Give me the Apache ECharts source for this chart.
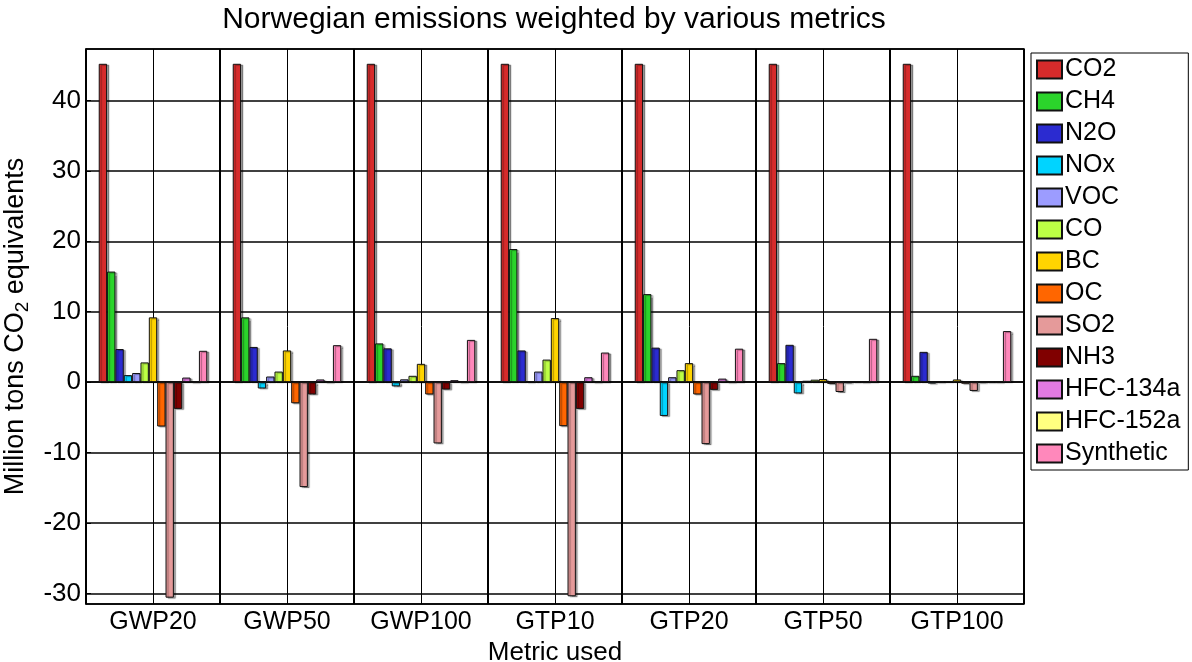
<!DOCTYPE html>
<html>
<head>
<meta charset="utf-8">
<script src="https://cdn.jsdelivr.net/npm/echarts@6/dist/echarts.min.js"></script>
<style>
  html, body { margin: 0; padding: 0; background: #fff; }
  #chart { width: 1192px; height: 662px; }
</style>
</head>
<body>
<div id="chart"></div>
<script>
// Weighting metrics (x categories)
const metrics = ['GWP20', 'GWP50', 'GWP100', 'GTP10', 'GTP20', 'GTP50', 'GTP100'];

// Components, one bar series each (Mt CO2-equivalents per metric)
const co2      = [45.2, 45.2, 45.2, 45.2, 45.2, 45.2, 45.2];
const ch4      = [15.7, 9.2, 5.5, 18.9, 12.5, 2.7, 0.9];
const n2o      = [4.7, 5.0, 4.8, 4.5, 4.9, 5.3, 4.3];
const nox      = [1.0, -0.9, -0.6, 0.1, -4.8, -1.6, -0.2];
const voc      = [1.3, 0.8, 0.4, 1.5, 0.7, 0.2, 0.05];
const co       = [2.8, 1.5, 0.9, 3.2, 1.7, 0.35, 0.15];
const bc       = [9.2, 4.5, 2.6, 9.1, 2.7, 0.45, 0.38];
const oc       = [-6.3, -3.0, -1.75, -6.25, -1.75, -0.25, -0.22];
const so2      = [-30.6, -14.9, -8.7, -30.4, -8.8, -1.4, -1.25];
const nh3      = [-3.8, -1.75, -1.05, -3.8, -1.1, -0.15, -0.12];
const hfc134a  = [0.65, 0.38, 0.28, 0.7, 0.5, 0.1, 0.05];
const hfc152a  = [0.03, 0.03, 0.03, 0.03, 0.03, 0.03, 0.03];
const synthetic = [4.45, 5.25, 6.0, 4.2, 4.75, 6.15, 7.25];

const seriesNames = ['CO2', 'CH4', 'N2O', 'NOx', 'VOC', 'CO', 'BC', 'OC', 'SO2', 'NH3', 'HFC-134a', 'HFC-152a', 'Synthetic'];
const seriesValues = [co2, ch4, n2o, nox, voc, co, bc, oc, so2, nh3, hfc134a, hfc152a, synthetic];
const seriesColors = ['#d62b2b', '#2bd42b', '#2b2bd0', '#00d4ff', '#9c9cff', '#bdff45', '#ffd400',
                      '#ff6600', '#e59a9a', '#800000', '#e27ae2', '#ffff80', '#ff88bb'];

const FONT = '"Liberation Sans", Arial, sans-serif';

const chart = echarts.init(document.getElementById('chart'), null, { renderer: 'canvas' });

const series = seriesNames.map((name, i) => ({
  name: name,
  type: 'bar',
  xAxisIndex: 0,
  yAxisIndex: 0,
  data: seriesValues[i],
  barGap: '0%',
  barCategoryGap: '19%',
  itemStyle: {
    color: seriesColors[i],
    borderColor: '#111',
    borderWidth: 1,
    shadowColor: 'rgba(0,0,0,0.35)',
    shadowOffsetX: 2,
    shadowOffsetY: 1,
    shadowBlur: 1
  },
  emphasis: { disabled: true }
}));

chart.setOption({
  animation: false,
  backgroundColor: '#fff',
  title: {
    text: 'Norwegian emissions weighted by various metrics',
    left: 549,
    textAlign: 'center',
    top: 0,
    textStyle: { fontFamily: FONT, fontSize: 30, fontWeight: 'normal', color: '#000' }
  },
  grid: {
    left: 86, right: 168, top: 49, bottom: 58,
    outerBoundsMode: 'none',
    containLabel: false,
    show: true, borderColor: '#000', borderWidth: 1.5, backgroundColor: '#fff'
  },
  legend: {
    orient: 'vertical',
    left: 1031,
    top: 53,
    padding: [4, 8, 4, 5],
    itemWidth: 25,
    itemHeight: 18,
    itemGap: 7,
    borderColor: '#000',
    borderWidth: 1,
    icon: 'rect',
    data: seriesNames,
    textStyle: { fontFamily: FONT, fontSize: 25, color: '#000', lineHeight: 25, padding: [0, 0, 0, -2] }
  },
  xAxis: [
    {
      type: 'category',
      data: metrics,
      position: 'bottom',
      axisLine: { show: true, lineStyle: { color: '#000', width: 1.5 } },
      axisTick: { show: false },
      axisLabel: { fontFamily: FONT, fontSize: 25, color: '#000', margin: 6, interval: 0 },
      splitLine: { show: true, interval: 0, lineStyle: { color: '#000', width: 2 } },
      name: 'Metric used',
      nameLocation: 'middle',
      nameGap: 29,
      nameTextStyle: { fontFamily: FONT, fontSize: 26, color: '#000' }
    },
    {
      // half-category grid: one line through the middle of every metric group
      type: 'category',
      data: Array.from({ length: metrics.length * 2 }, (_, i) => String(i)),
      position: 'top',
      axisLine: { show: false },
      axisTick: { show: false },
      axisLabel: { show: false },
      splitLine: { show: true, interval: 0, lineStyle: { color: '#000', width: 1 } }
    }
  ],
  yAxis: {
    type: 'value',
    min: -31.5,
    max: 47.3,
    splitNumber: 8,
    axisLine: { show: true, lineStyle: { color: '#000', width: 1.5 } },
    axisTick: { show: true, inside: true, length: 5, lineStyle: { color: '#000' } },
    axisLabel: {
      fontFamily: FONT, fontSize: 26, color: '#000', margin: 5,
      showMinLabel: false, showMaxLabel: false,
      formatter: v => (Math.abs(v % 10) < 1e-6 ? String(v) : '')
    },
    splitLine: { show: true, lineStyle: { color: '#000', width: 1.5 } },
    name: '{t|Million tons CO}{s|2}{t| equivalents}',
    nameLocation: 'middle',
    nameGap: 42,
    nameTextStyle: {
      color: '#000',
      rich: {
        t: { fontFamily: FONT, fontSize: 27, color: '#000', lineHeight: 34, verticalAlign: 'middle' },
        s: { fontFamily: FONT, fontSize: 19, color: '#000', lineHeight: 34, verticalAlign: 'bottom' }
      }
    }
  },
  series: series
});
</script>
</body>
</html>
